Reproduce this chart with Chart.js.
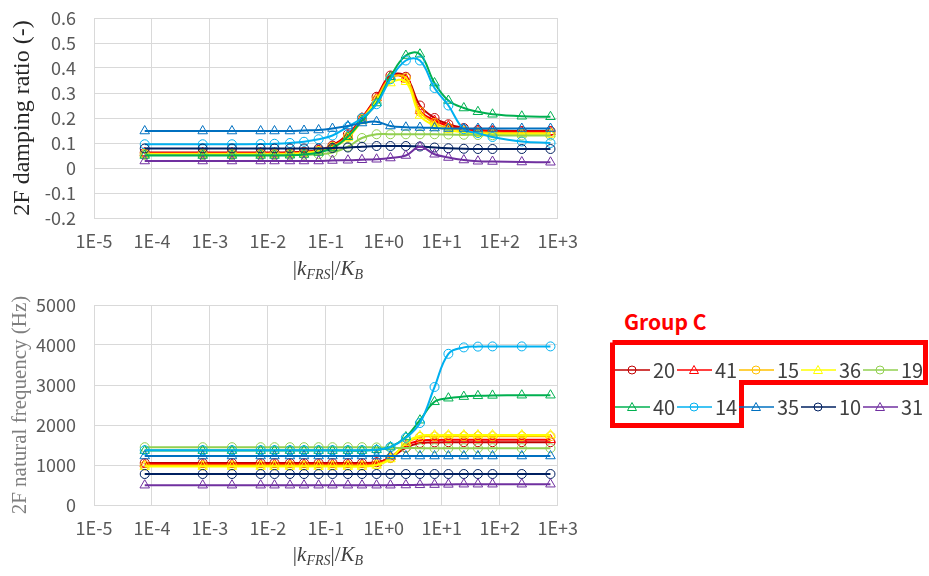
<!DOCTYPE html>
<html>
<head>
<meta charset="utf-8">
<script src="https://cdn.jsdelivr.net/npm/chart.js@4"></script>
<style>
  body { margin: 0; background: #fff; width: 929px; height: 576px; position: relative; overflow: hidden; }
  canvas { position: absolute; left: 0; }
  .xtitle { position: absolute; font-family: "Liberation Serif", serif; font-size: 21px; color: #404040; transform: translateX(-50%); white-space: nowrap; }
  .xtitle sub { font-size: 14px; vertical-align: -4px; }
  #groupTitle { position: absolute; left: 624px; top: 306px; font-family: "Noto Sans CJK JP", sans-serif; font-weight: bold; font-size: 21px; color: #ff0000; }
  .legendRow { position: absolute; left: 615px; display: flex; }
  .legendItem { width: 62px; display: flex; align-items: center; font-family: "Noto Sans CJK JP", sans-serif; font-size: 20px; color: #404040; }
  .legendItem svg { margin-right: 3px; }
  #box { position: absolute; left: 0; top: 0; }
</style>
</head>
<body>
<canvas id="dampChart" width="590" height="290" style="top:0"></canvas>
<canvas id="freqChart" width="590" height="286" style="top:290px"></canvas>
<div class="xtitle" style="left:328px; top:256px">|<i>k</i><sub><i>FRS</i></sub>|/<i>K</i><sub><i>B</i></sub></div>
<div class="xtitle" style="left:328px; top:542px">|<i>k</i><sub><i>FRS</i></sub>|/<i>K</i><sub><i>B</i></sub></div>
<div id="groupTitle">Group C</div>
<svg id="box" width="929" height="576">
  <polyline points="612.5,342.5 925.5,342.5 925.5,382.5 741.5,382.5 741.5,425.5 612.5,425.5 612.5,342.5" fill="none" stroke="#ff0000" stroke-width="5"/>
</svg>
<div class="legendRow" id="row1" style="top:355px"></div>
<div class="legendRow" id="row2" style="top:392px"></div>
<script>
// |kFRS|/KB sample points
const xValues = [7.5e-5, 7.5e-4, 2.4e-3, 7.5e-3, 0.013, 0.024, 0.042, 0.075, 0.13, 0.24, 0.42,
                 0.75, 1.3, 2.4, 4.2, 7.5, 13, 24, 42, 75, 240, 750];
const xTicks = [1e-5, 1e-4, 1e-3, 1e-2, 1e-1, 1e0, 1e1, 1e2, 1e3];

const seriesNames = ['20', '41', '15', '36', '19', '40', '14', '35', '10', '31'];
const seriesColors = ['#C00000', '#FF0000', '#FFC000', '#FFFF00', '#92D050', '#00B050', '#00B0F0', '#0070C0', '#002060', '#7030A0'];
const seriesMarkers = ['circle', 'triangle', 'circle', 'triangle', 'circle', 'triangle', 'circle', 'triangle', 'circle', 'triangle'];

// 2F damping ratio (-)
const damp20 = [0.062, 0.062, 0.062, 0.062, 0.062, 0.063, 0.065, 0.072, 0.09, 0.135, 0.2, 0.285, 0.37, 0.365, 0.25, 0.2, 0.175, 0.16, 0.152, 0.15, 0.148, 0.148];
const damp41 = [0.06, 0.06, 0.06, 0.06, 0.06, 0.061, 0.063, 0.07, 0.088, 0.13, 0.2, 0.28, 0.365, 0.355, 0.23, 0.19, 0.168, 0.155, 0.15, 0.147, 0.145, 0.145];
const damp15 = [0.057, 0.057, 0.057, 0.057, 0.057, 0.058, 0.061, 0.068, 0.085, 0.125, 0.195, 0.275, 0.36, 0.36, 0.225, 0.18, 0.16, 0.148, 0.143, 0.141, 0.14, 0.14];
const damp36 = [0.055, 0.055, 0.055, 0.055, 0.055, 0.056, 0.059, 0.066, 0.082, 0.12, 0.19, 0.27, 0.34, 0.345, 0.21, 0.17, 0.152, 0.142, 0.138, 0.136, 0.135, 0.135];
const damp19 = [0.052, 0.052, 0.052, 0.052, 0.052, 0.052, 0.053, 0.055, 0.062, 0.085, 0.12, 0.135, 0.135, 0.135, 0.135, 0.135, 0.134, 0.133, 0.132, 0.131, 0.13, 0.13];
const damp40 = [0.05, 0.05, 0.05, 0.05, 0.05, 0.051, 0.054, 0.062, 0.08, 0.125, 0.19, 0.26, 0.365, 0.45, 0.455, 0.34, 0.27, 0.24, 0.225, 0.215, 0.207, 0.205];
const damp14 = [0.095, 0.095, 0.095, 0.096, 0.097, 0.1, 0.105, 0.115, 0.13, 0.165, 0.2, 0.255, 0.355, 0.43, 0.43, 0.32, 0.25, 0.155, 0.14, 0.124, 0.106, 0.1];
const damp35 = [0.148, 0.148, 0.148, 0.148, 0.148, 0.148, 0.15, 0.152, 0.158, 0.168, 0.18, 0.185, 0.168, 0.163, 0.162, 0.16, 0.158, 0.158, 0.158, 0.158, 0.158, 0.158];
const damp10 = [0.078, 0.078, 0.078, 0.078, 0.078, 0.078, 0.078, 0.078, 0.08, 0.082, 0.085, 0.088, 0.088, 0.088, 0.086, 0.082, 0.079, 0.077, 0.076, 0.076, 0.076, 0.076];
const damp31 = [0.028, 0.028, 0.028, 0.028, 0.028, 0.028, 0.028, 0.028, 0.03, 0.031, 0.033, 0.035, 0.04, 0.05, 0.085, 0.055, 0.042, 0.032, 0.027, 0.026, 0.024, 0.023];

// 2F natural frequency (Hz)
const freq20 = [1050, 1050, 1050, 1050, 1050, 1050, 1050, 1050, 1050, 1050, 1050, 1070, 1180, 1430, 1550, 1565, 1570, 1570, 1570, 1570, 1570, 1570];
const freq41 = [1020, 1020, 1020, 1020, 1020, 1020, 1020, 1020, 1020, 1020, 1020, 1050, 1200, 1480, 1610, 1625, 1630, 1630, 1630, 1630, 1630, 1630];
const freq15 = [990, 990, 990, 990, 990, 990, 990, 990, 990, 990, 990, 1010, 1170, 1530, 1700, 1715, 1720, 1720, 1720, 1720, 1720, 1720];
const freq36 = [960, 960, 960, 960, 960, 960, 960, 960, 960, 960, 960, 990, 1150, 1560, 1730, 1745, 1750, 1750, 1750, 1750, 1750, 1750];
const freq19 = [1445, 1445, 1445, 1445, 1445, 1445, 1445, 1445, 1445, 1445, 1445, 1440, 1430, 1425, 1420, 1420, 1420, 1420, 1420, 1420, 1420, 1420];
const freq40 = [1360, 1360, 1360, 1360, 1360, 1360, 1360, 1360, 1360, 1360, 1360, 1380, 1450, 1700, 2120, 2580, 2670, 2710, 2730, 2740, 2745, 2745];
const freq14 = [1370, 1370, 1370, 1370, 1370, 1370, 1370, 1370, 1370, 1370, 1370, 1380, 1450, 1680, 2050, 2950, 3780, 3940, 3960, 3965, 3965, 3965];
const freq35 = [1225, 1225, 1225, 1225, 1225, 1225, 1225, 1225, 1225, 1225, 1225, 1225, 1225, 1225, 1225, 1225, 1225, 1225, 1225, 1225, 1225, 1225];
const freq10 = [775, 775, 775, 775, 775, 775, 775, 775, 775, 775, 775, 775, 775, 775, 775, 775, 775, 775, 775, 775, 775, 775];
const freq31 = [495, 495, 495, 495, 495, 495, 495, 495, 495, 495, 495, 495, 495, 500, 505, 510, 515, 520, 520, 520, 520, 520];

const dampSeries = [damp20, damp41, damp15, damp36, damp19, damp40, damp14, damp35, damp10, damp31];
const freqSeries = [freq20, freq41, freq15, freq36, freq19, freq40, freq14, freq35, freq10, freq31];

const tickFont = { family: '"Noto Sans CJK JP", sans-serif', size: 18 };
const tickColor = '#595959';
const gridColor = '#d9d9d9';

function buildDatasets(series) {
    return series.map((values, i) => ({
        label: seriesNames[i],
        data: values.map((v, j) => ({ x: xValues[j], y: v })),
        borderColor: seriesColors[i],
        backgroundColor: 'rgba(0,0,0,0)',
        pointBorderColor: seriesColors[i],
        pointBackgroundColor: 'rgba(0,0,0,0)',
        pointStyle: seriesMarkers[i],
        pointRadius: seriesMarkers[i] === 'triangle' ? 5.5 : 4.5,
        pointBorderWidth: 1,
        borderWidth: 2,
        tension: 0.4,
        order: series.length - i // later series on top, like Excel
    }));
}

function expLabel(value) {
    const e = Math.round(Math.log10(value));
    return '1E' + (e >= 0 ? '+' : '-') + Math.abs(e);
}

function makeChart(canvasId, series, yOpts, axisHeight, padTop, title) {
    const ctx = document.getElementById(canvasId).getContext('2d');
    return new Chart(ctx, {
        type: 'line',
        data: { datasets: buildDatasets(series) },
        options: {
            responsive: false,
            animation: false,
            layout: { padding: { top: padTop, right: 28, left: 0, bottom: 0 } },
            plugins: { legend: { display: false }, tooltip: { enabled: false } },
            scales: {
                x: {
                    type: 'logarithmic',
                    min: 1e-5,
                    max: 1e3,
                    afterBuildTicks: axis => { axis.ticks = xTicks.map(v => ({ value: v })); },
                    afterFit: axis => { axis.height = axisHeight; },
                    grid: { color: gridColor, drawTicks: false },
                    border: { color: gridColor },
                    ticks: {
                        font: tickFont, color: tickColor, padding: 12,
                        maxRotation: 0, autoSkip: false,
                        callback: v => expLabel(v)
                    }
                },
                y: {
                    min: yOpts.min,
                    max: yOpts.max,
                    afterFit: axis => {
                        axis.width = 94;
                        // let the layout padding alone decide where the plot starts
                        axis.paddingTop = 0;
                        axis.paddingBottom = 0;
                    },
                    grid: { color: gridColor, drawTicks: false },
                    border: { display: false },
                    ticks: {
                        stepSize: yOpts.step, font: tickFont, color: tickColor, padding: 18,
                        autoSkip: false,
                        callback: yOpts.format
                    },
                    title: {
                        display: true, text: title.text, color: title.color,
                        font: { family: '"Liberation Serif", serif', size: title.size },
                        padding: { top: 8, bottom: 0 }
                    }
                }
            }
        }
    });
}

makeChart('dampChart', dampSeries,
    { min: -0.2, max: 0.6, step: 0.1, format: v => String(Math.round(v * 10) / 10) },
    72, 18, { text: '2F damping ratio (-)', color: '#262626', size: 24 });
makeChart('freqChart', freqSeries,
    { min: 0, max: 5000, step: 1000, format: v => String(v) },
    71, 15, { text: '2F natural frequency (Hz)', color: '#7f7f7f', size: 21 });

// custom legend in two rows
function legendSymbol(i) {
    const c = seriesColors[i];
    const marker = seriesMarkers[i] === 'circle'
        ? `<circle cx="17" cy="7" r="4" fill="none" stroke="${c}" stroke-width="1"/>`
        : `<polygon points="17,2.5 21.5,10.5 12.5,10.5" fill="none" stroke="${c}" stroke-width="1"/>`;
    return `<svg width="35" height="14"><line x1="0" y1="7" x2="35" y2="7" stroke="${c}" stroke-width="1.5"/>${marker}</svg>`;
}
seriesNames.forEach((name, i) => {
    const row = document.getElementById(i < 5 ? 'row1' : 'row2');
    const item = document.createElement('div');
    item.className = 'legendItem';
    item.innerHTML = legendSymbol(i) + '<span>' + name + '</span>';
    row.appendChild(item);
});
</script>
</body>
</html>
